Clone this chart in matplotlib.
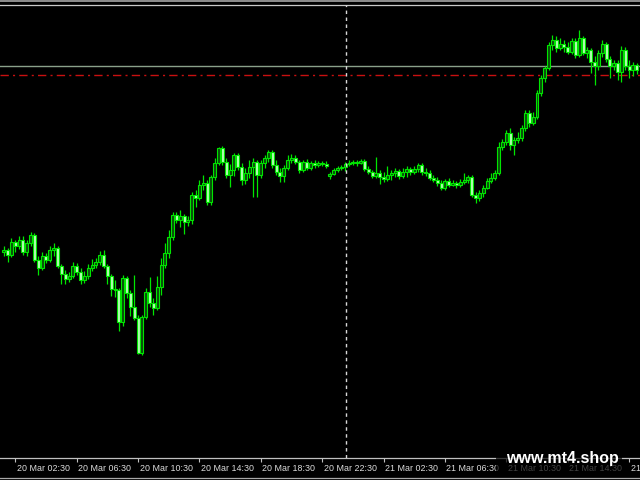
import numpy as np
import matplotlib
matplotlib.use("Agg")
import matplotlib.pyplot as plt
from matplotlib.transforms import ScaledTranslation
from matplotlib.patches import Rectangle
from matplotlib.lines import Line2D

# M15 bars, prices in points (price axis is cut off in the original)
opens = [248, 250, 245, 258, 254, 260, 248, 257, 265, 240, 232, 244, 240, 250, 252, 234, 226, 221, 224, 234,
         228, 220, 224, 232, 235, 238, 245, 234, 224, 211, 210, 178, 222, 207, 193, 182, 147, 183, 208, 197,
         192, 213, 235, 247, 263, 285, 280, 284, 278, 280, 305, 302, 315, 317, 298, 323, 337, 352, 338, 325,
         330, 345, 333, 320, 327, 333, 338, 325, 337, 342, 348, 335, 328, 324, 332, 340, 342, 338, 330, 338,
         332, 337, 335, 337, 336, 324, 326, 330, 332, 333, 336, 337, 338, 337, 339, 331, 328, 324, 327, 323,
         321, 325, 327, 329, 324, 328, 331, 328, 331, 335, 328, 327, 322, 320, 317, 312, 319, 315, 317, 315,
         318, 320, 323, 305, 302, 307, 312, 319, 322, 327, 353, 358, 367, 355, 360, 362, 372, 387, 377, 383,
         407, 422, 432, 455, 460, 452, 456, 453, 448, 459, 445, 462, 447, 450, 438, 434, 447, 456, 441, 434,
         437, 428, 450, 434, 430, 435]
closes = [250, 245, 258, 254, 260, 248, 257, 265, 240, 232, 244, 240, 250, 252, 234, 226, 221, 224, 234, 228,
          220, 224, 232, 235, 238, 245, 234, 224, 211, 210, 178, 222, 207, 193, 182, 147, 183, 208, 197, 192,
          213, 235, 247, 263, 285, 280, 284, 278, 280, 305, 302, 315, 317, 298, 323, 337, 352, 338, 325, 330,
          345, 333, 320, 327, 333, 338, 325, 337, 342, 348, 335, 328, 324, 332, 340, 342, 338, 330, 338, 332,
          337, 335, 337, 336, 334, 326, 330, 332, 333, 336, 337, 338, 337, 339, 331, 328, 324, 327, 323, 321,
          325, 327, 329, 324, 328, 331, 328, 331, 335, 328, 327, 322, 320, 317, 312, 319, 315, 317, 315, 318,
          320, 323, 305, 302, 307, 312, 319, 322, 327, 353, 358, 367, 355, 360, 362, 372, 387, 377, 383, 407,
          422, 432, 455, 460, 452, 456, 453, 448, 459, 445, 462, 447, 450, 438, 434, 447, 456, 441, 434, 437,
          428, 450, 434, 430, 435, 430]
highs = [254, 252, 262, 260, 264, 264, 260, 268, 267, 244, 248, 247, 254, 257, 254, 236, 230, 228, 238, 237,
         232, 229, 236, 241, 242, 249, 250, 236, 226, 220, 212, 225, 224, 210, 225, 185, 185, 212, 223, 202,
         224, 242, 257, 270, 288, 288, 290, 286, 284, 308, 310, 320, 325, 320, 325, 342, 353, 354, 342, 336,
         347, 347, 337, 332, 340, 342, 340, 340, 345, 350, 350, 340, 332, 335, 345, 346, 345, 340, 340, 341,
         339, 340, 339, 339, 339, 328, 332, 334, 335, 338, 340, 340, 340, 341, 341, 334, 330, 343, 330, 328,
         334, 330, 332, 331, 332, 334, 333, 334, 337, 337, 332, 330, 325, 323, 320, 321, 322, 320, 319, 321,
         327, 325, 325, 308, 310, 315, 322, 327, 330, 358, 361, 370, 372, 363, 368, 375, 390, 390, 388, 410,
         425, 434, 458, 465, 464, 462, 460, 458, 462, 462, 470, 464, 453, 452, 444, 450, 460, 458, 444, 440,
         440, 454, 453, 440, 438, 437]
lows = [244, 238, 243, 248, 251, 245, 244, 254, 238, 225, 230, 237, 238, 244, 232, 216, 216, 218, 222, 225,
        216, 217, 221, 229, 232, 235, 232, 216, 204, 203, 169, 174, 202, 184, 180, 146, 145, 181, 193, 185,
        190, 205, 232, 242, 260, 277, 273, 266, 274, 276, 293, 300, 310, 295, 295, 320, 335, 335, 322, 313,
        324, 330, 315, 316, 322, 303, 303, 322, 332, 338, 332, 325, 318, 318, 330, 337, 336, 327, 328, 330,
        330, 332, 333, 334, 332, 321, 325, 328, 330, 329, 334, 335, 334, 336, 329, 326, 322, 322, 316, 318,
        319, 320, 323, 321, 322, 323, 325, 326, 328, 325, 324, 320, 318, 314, 310, 310, 313, 314, 312, 313,
        316, 317, 303, 297, 299, 303, 311, 317, 320, 325, 350, 355, 350, 345, 357, 359, 369, 373, 375, 381,
        404, 418, 430, 450, 448, 450, 448, 446, 446, 442, 443, 445, 442, 427, 415, 430, 443, 438, 422, 430,
        420, 418, 430, 422, 424, 426]

tick_bars = [-13, 3, 19, 35, 51, 67, 83, 99, 115, 131, 147, 163]
tick_labels = ["19 Mar 22:30", "20 Mar 02:30", "20 Mar 06:30", "20 Mar 10:30", "20 Mar 14:30",
               "20 Mar 18:30", "20 Mar 22:30", "21 Mar 02:30", "21 Mar 06:30", "21 Mar 10:30",
               "21 Mar 14:30", "21 Mar 18:30"]

level_line = 434      # grey horizontal level
stop_line = 425.5     # red dash-dot level
cursor_bar = 89.2     # dashed vertical cross

o = np.array(opens, dtype=float)
c = np.array(closes, dtype=float)
h = np.array(highs, dtype=float)
l = np.array(lows, dtype=float)
x = np.arange(len(o))
bull = c >= o

fig = plt.figure(figsize=(6.4, 4.8), dpi=100, facecolor="black")
ax = fig.add_axes([0, 21.7 / 480, 1, 453.3 / 480])
ax.set_facecolor("black")

lime = "#00e600"
ax.vlines(x, l, h, color=lime, linewidth=0.9, zorder=2)
body_lo = np.minimum(o, c)
body_h = np.maximum(np.abs(c - o), 0.8)
faces = np.where(bull, "#0b4a0b", "#b4ffb4")
ax.bar(x, body_h, bottom=body_lo, width=0.78, color=faces, edgecolor=lime,
       linewidth=0.8, zorder=3)

ax.axhline(level_line, color="#8aa08a", linewidth=1.0, zorder=1)
ax.axhline(stop_line, color="#c81010", linewidth=1.0, linestyle=(0, (6, 3, 1.5, 3)), zorder=1)
ax.axvline(cursor_bar, color="#d8d8d8", linewidth=1.0, linestyle=(0, (2.5, 2.5)), zorder=4)

ax.set_yticks([])
ax.set_xticks(tick_bars)
ax.set_xticklabels(tick_labels, ha="left", fontsize=6.4, color="#dcdcdc",
                   family="Liberation Sans")
ax.tick_params(axis="x", direction="out", length=2.6, width=0.8, color="#c0c0c0", pad=1.2)
shift = ScaledTranslation(1.5 / 100, 0, fig.dpi_scale_trans)
for lab in ax.get_xticklabels():
    lab.set_transform(lab.get_transform() + shift)

# limits after the ticks, so the off-screen tick does not widen the view
ax.set_xlim(-0.99, 165.85)
ax.set_ylim(41.7, 495)

for side in ["left", "right"]:
    ax.spines[side].set_visible(False)
ax.spines["bottom"].set_color("#c0c0c0")
ax.spines["top"].set_color("#c8c8c8")
ax.spines["bottom"].set_linewidth(0.9)
ax.spines["top"].set_linewidth(0.9)

# window frame bits
fig.add_artist(Rectangle((0, 1 - 2 / 480), 1, 2 / 480, transform=fig.transFigure,
                         facecolor="#8a8a8a", edgecolor="none"))
fig.add_artist(Line2D([0, 1], [1 - 477.7 / 480] * 2, transform=fig.transFigure,
                      color="#a8a8a8", linewidth=0.9))

# watermark with a dark shade behind it
fig.add_artist(Rectangle((496 / 640, 1 - 475 / 480), 126 / 640, 26 / 480,
                         transform=fig.transFigure, facecolor="black", alpha=0.7,
                         edgecolor="none", zorder=5))
fig.text(562 / 640, 1 - 459 / 480, "www.mt4.shop", color="white", fontsize=11.5,
         fontweight="bold", family="Liberation Sans", ha="center", va="center", zorder=6)

fig.savefig("out.png", dpi=100, facecolor="black")
